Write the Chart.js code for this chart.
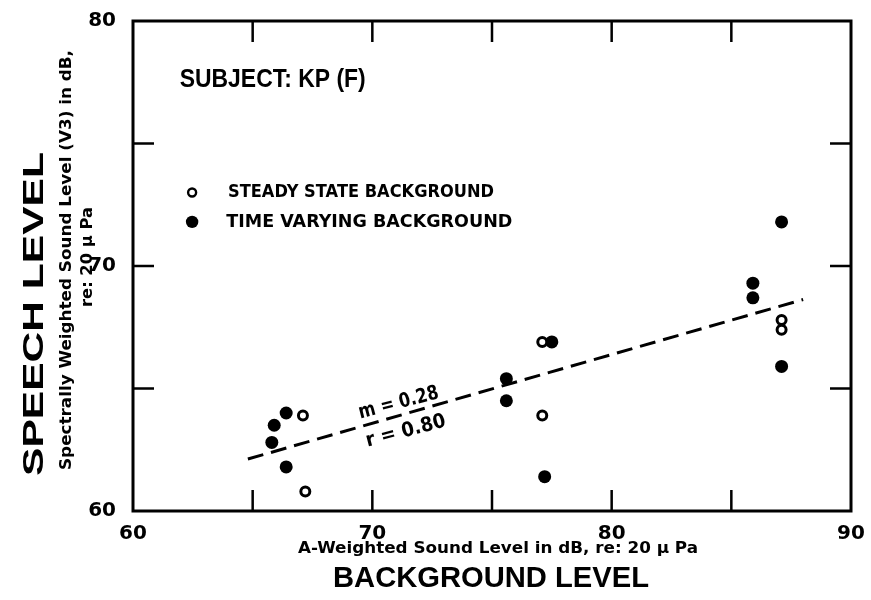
<!DOCTYPE html>
<html>
<head>
<meta charset="utf-8">
<script src="https://cdn.jsdelivr.net/npm/chart.js@4.4.1/dist/chart.umd.min.js"></script>
<style>
  html, body { margin: 0; padding: 0; background: #fff; }
  #wrap { width: 871px; height: 600px; }
</style>
</head>
<body>
<div id="wrap"><canvas id="chart" width="871" height="600"></canvas></div>
<script>
// values
const steadyX = [67.1, 67.2, 77.1, 77.1, 87.1, 87.1];
const steadyY = [63.9, 60.8, 66.9, 63.9, 67.8, 67.4];
const varyingX = [66.4, 65.9, 65.8, 66.4, 77.5, 75.6, 75.6, 77.2, 87.1, 87.1, 85.9, 85.9];
const varyingY = [64.0, 63.5, 62.8, 61.8, 66.9, 65.4, 64.5, 61.4, 65.9, 71.8, 69.3, 68.7];
const fitX = [64.8, 88.0];
const fitY = [62.12, 68.63];
const xTicks = [60, 70, 80, 90];
const yTicks = [60, 70, 80];

const toPoints = (xs, ys) => xs.map((x, i) => ({ x: x, y: ys[i] }));

// draw text squeezed/stretched to a given width (old typewriter-style fonts)
function fitText(ctx, text, x, y, width, font, align) {
  ctx.save();
  ctx.font = font;
  const w = ctx.measureText(text).width;
  const s = width / w;
  ctx.translate(x, y);
  ctx.scale(s, 1);
  ctx.textAlign = align || 'left';
  ctx.textBaseline = 'middle';
  ctx.fillText(text, 0, 0);
  ctx.restore();
}

const framePlugin = {
  id: 'frame',
  beforeDatasetsDraw(chart) {
    const { ctx, chartArea: a, scales } = chart;
    ctx.save();
    ctx.strokeStyle = '#000';
    ctx.lineWidth = 3;
    ctx.strokeRect(a.left, a.top, a.right - a.left, a.bottom - a.top);
    ctx.lineWidth = 2.5;
    const len = 21;
    scales.x.ticks.forEach(t => {
      if (t.value <= scales.x.min || t.value >= scales.x.max) return;
      const px = scales.x.getPixelForValue(t.value);
      ctx.beginPath();
      ctx.moveTo(px, a.bottom); ctx.lineTo(px, a.bottom - len);
      ctx.moveTo(px, a.top); ctx.lineTo(px, a.top + len);
      ctx.stroke();
    });
    scales.y.ticks.forEach(t => {
      if (t.value <= scales.y.min || t.value >= scales.y.max) return;
      const py = scales.y.getPixelForValue(t.value);
      ctx.beginPath();
      ctx.moveTo(a.left, py); ctx.lineTo(a.left + len, py);
      ctx.moveTo(a.right, py); ctx.lineTo(a.right - len, py);
      ctx.stroke();
    });
    ctx.restore();
  },
  afterDraw(chart) {
    const { ctx, scales } = chart;
    const X = v => scales.x.getPixelForValue(v);
    const Y = v => scales.y.getPixelForValue(v);
    ctx.save();
    ctx.fillStyle = '#000';

    // subject title
    fitText(ctx, 'SUBJECT: KP (F)', X(61.95), Y(77.6), 186, 'bold 26px "Liberation Sans"');

    // legend
    ctx.strokeStyle = '#000';
    ctx.lineWidth = 2.4;
    ctx.beginPath();
    ctx.arc(X(62.47), Y(73.0), 4, 0, Math.PI * 2);
    ctx.stroke();
    ctx.beginPath();
    ctx.arc(X(62.47), Y(71.8), 6.2, 0, Math.PI * 2);
    ctx.fill();
    fitText(ctx, 'STEADY STATE BACKGROUND', X(63.97), Y(73.0), 266, 'bold 18px "DejaVu Sans"');
    fitText(ctx, 'TIME VARYING BACKGROUND', X(63.9), Y(71.8), 286, 'bold 18px "DejaVu Sans"');

    // regression annotation
    const ang = -14.5 * Math.PI / 180;
    [['m = 0.28', 71.1, 64.4], ['r = 0.80', 71.4, 63.25]].forEach(([t, vx, vy]) => {
      ctx.save();
      ctx.translate(X(vx), Y(vy));
      ctx.rotate(ang);
      fitText(ctx, t, 0, 0, 82, 'bold 20px "DejaVu Sans"', 'center');
      ctx.restore();
    });

    // x axis titles
    fitText(ctx, 'A-Weighted Sound Level in dB, re: 20 \u03bc Pa', 498, 549, 400, 'bold 16px "DejaVu Sans"', 'center');
    fitText(ctx, 'BACKGROUND LEVEL', 491, 579, 316, 'bold 29px "Liberation Sans"', 'center');

    // y axis titles (rotated)
    ctx.save();
    ctx.translate(35, 314);
    ctx.rotate(-Math.PI / 2);
    fitText(ctx, 'SPEECH LEVEL', 0, 0, 324, 'bold 30px "Liberation Sans"', 'center');
    ctx.restore();
    ctx.save();
    ctx.translate(67, 260);
    ctx.rotate(-Math.PI / 2);
    fitText(ctx, 'Spectrally Weighted Sound Level (V3) in dB,', 0, 0, 420, 'bold 16px "DejaVu Sans"', 'center');
    ctx.restore();
    ctx.save();
    ctx.translate(88, 257);
    ctx.rotate(-Math.PI / 2);
    fitText(ctx, 're: 20 \u03bc Pa', 0, 0, 100, 'bold 16px "DejaVu Sans"', 'center');
    ctx.restore();

    ctx.restore();
  }
};

new Chart(document.getElementById('chart'), {
  type: 'scatter',
  data: {
    datasets: [
      {
        label: 'STEADY STATE BACKGROUND',
        data: toPoints(steadyX, steadyY),
        pointRadius: 4.5,
        pointBorderWidth: 3,
        pointBackgroundColor: '#fff',
        pointBorderColor: '#000'
      },
      {
        label: 'TIME VARYING BACKGROUND',
        data: toPoints(varyingX, varyingY),
        pointRadius: 6.5,
        pointBorderWidth: 0,
        pointBackgroundColor: '#000',
        pointBorderColor: '#000'
      },
      {
        label: 'fit',
        type: 'line',
        data: toPoints(fitX, fitY),
        borderColor: '#000',
        borderWidth: 3,
        borderDash: [16, 8],
        pointRadius: 0,
        fill: false,
        order: 3
      }
    ]
  },
  options: {
    responsive: false,
    animation: false,
    layout: { padding: { left: 88, right: 20, top: 15, bottom: 59 } },
    plugins: { legend: { display: false }, tooltip: { enabled: false } },
    scales: {
      x: {
        type: 'linear', min: 60, max: 90,
        grid: { display: false }, border: { display: false },
        afterFit(scale) { scale.height = 30; },
        ticks: {
          stepSize: 5, autoSkip: false, maxRotation: 0, padding: 3,
          color: '#000', font: { family: 'DejaVu Sans', weight: 'bold', size: 20 },
          callback: v => xTicks.includes(v) ? String(v) : ''
        }
      },
      y: {
        type: 'linear', min: 60, max: 80,
        grid: { display: false }, border: { display: false },
        afterFit(scale) { scale.width = 45; },
        ticks: {
          stepSize: 5, autoSkip: false, padding: 9,
          color: '#000', font: { family: 'DejaVu Sans', weight: 'bold', size: 20 },
          callback: v => yTicks.includes(v) ? String(v) : ''
        }
      }
    }
  },
  plugins: [framePlugin]
});
</script>
</body>
</html>
